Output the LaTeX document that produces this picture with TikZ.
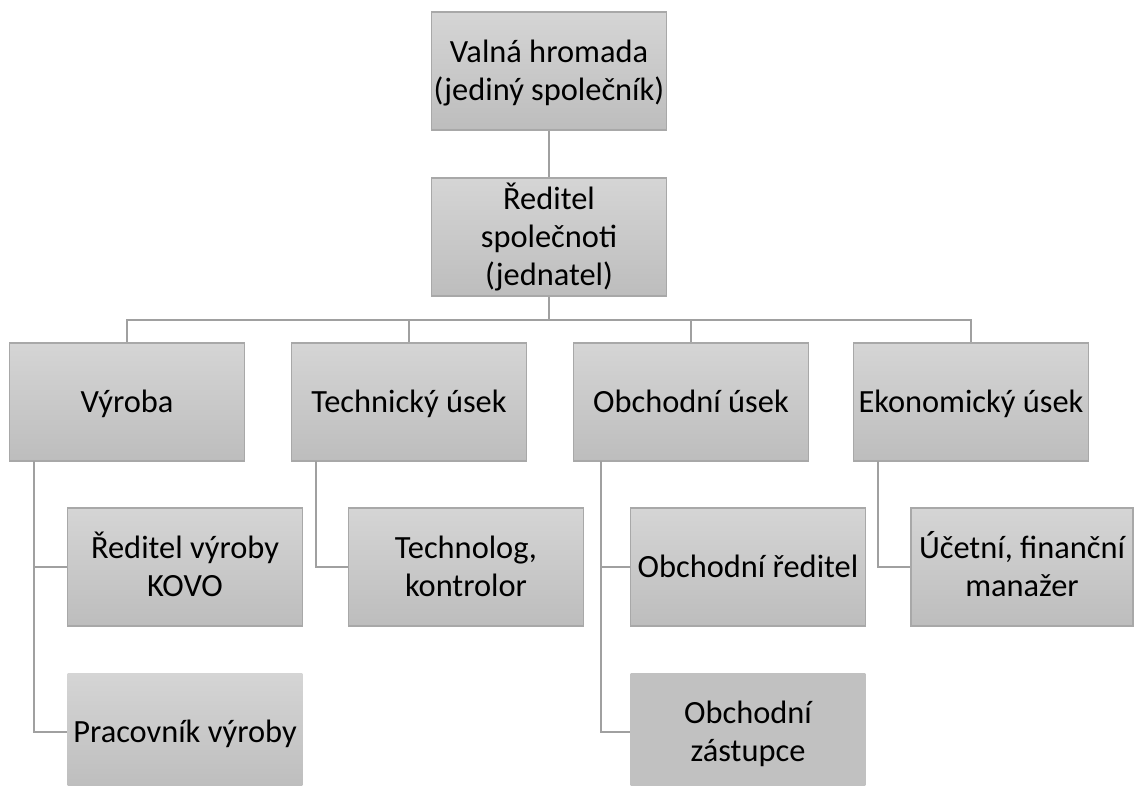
\documentclass[tikz,border=0pt]{standalone}
\usepackage{fontspec}
\setmainfont{Carlito}
\definecolor{topc}{RGB}{213,213,213}
\definecolor{botc}{RGB}{189,189,189}
\definecolor{bordc}{RGB}{168,168,168}
\definecolor{linec}{RGB}{160,160,160}
\definecolor{flatc}{RGB}{193,193,193}
\newcommand{\boxline}[1]{\rule[-6.6pt]{0pt}{28.7pt}#1}
\tikzset{
  box/.style={rectangle, draw=bordc, line width=1.1pt, top color=topc, bottom color=botc,
    minimum width=176pt, minimum height=88.5pt, inner sep=0pt, align=center,
    font=\fontsize{24.3pt}{28.7pt}\selectfont, text=black},
  nobord/.style={draw=none},
  flat/.style={draw=none, top color=flatc, bottom color=flatc},
  conn/.style={draw=linec, line width=1.6pt},
}
\begin{document}
\begin{tikzpicture}[x=0.75pt, y=-0.75pt]
\useasboundingbox (0,0) rectangle (1134,785);
% level 0/1
\node[box] (vh) at (549,71) {\boxline{Valná hromada}\\\boxline{(jediný společník)}};
\node[box] (rs) at (549,237) {\boxline{Ředitel}\\\boxline{společnoti}\\\boxline{(jednatel)}};
% level 2
\node[box] (vy) at (127,402) {\boxline{Výroba}};
\node[box] (te) at (409,402) {\boxline{Technický úsek}};
\node[box] (ob) at (691,402) {\boxline{Obchodní úsek}};
\node[box] (ek) at (971,402) {\boxline{Ekonomický úsek}};
% level 3
\node[box] (rv) at (185,567) {\boxline{Ředitel výroby}\\\boxline{KOVO}};
\node[box, nobord] (pv) at (185,732) {\boxline{Pracovník výroby}};
\node[box] (tk) at (466,567) {\boxline{Technolog,}\\\boxline{kontrolor}};
\node[box] (or) at (748,567) {\boxline{Obchodní ředitel}};
\node[box, flat] (oz) at (748,732) {\boxline{Obchodní}\\\boxline{zástupce}};
\node[box, minimum width=166.5pt] (uf) at (1022,567) {\boxline{Účetní, finanční}\\\boxline{manažer}};
% connectors
\coordinate (bus) at (549,320);
\draw[conn] (vh.south) -- (rs.north);
\draw[conn] (rs.south) -- (bus);
\draw[conn] (vy.north) |- (bus) -| (ek.north);
\draw[conn] (te.north) -- (te.north |- bus);
\draw[conn] (ob.north) -- (ob.north |- bus);
% sub branches
\coordinate (vyx) at (34,461);
\coordinate (tex) at (316,461);
\coordinate (obx) at (601,461);
\coordinate (ekx) at (878,461);
\draw[conn] (vyx) |- (pv.west);
\draw[conn] (vyx |- rv.west) -- (rv.west);
\draw[conn] (tex) |- (tk.west);
\draw[conn] (obx) |- (oz.west);
\draw[conn] (obx |- or.west) -- (or.west);
\draw[conn] (ekx) |- (uf.west);
\end{tikzpicture}
\end{document}
